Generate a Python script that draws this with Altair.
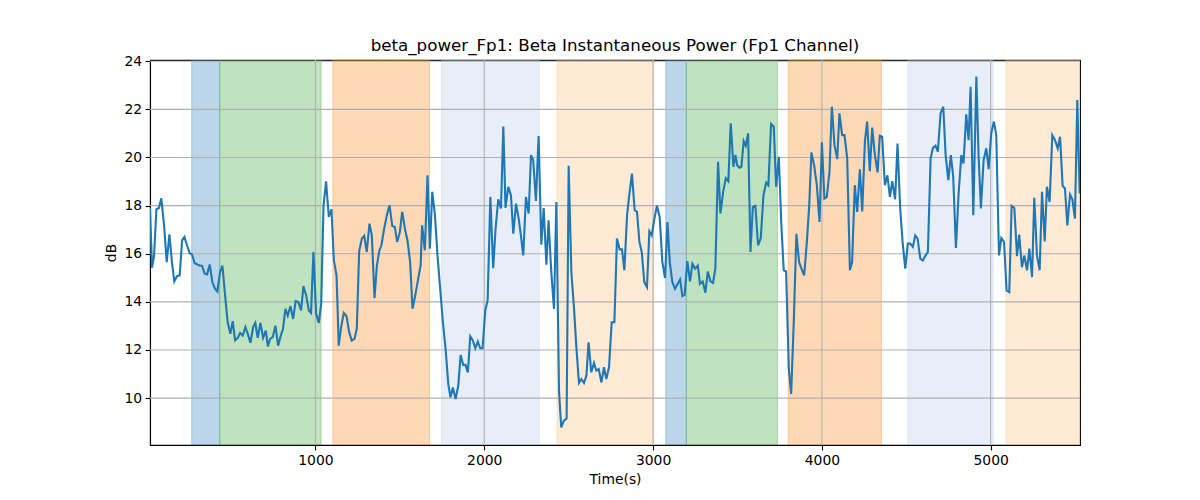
import altair as alt
import pandas as pd

# ---- line data (time in s, beta power in dB) ----
time_s = [20, 32, 44, 58, 73, 87, 103, 119, 135, 150, 164, 180, 196, 210, 224, 239, 255, 269, 285, 301,
          316, 328, 344, 358, 374, 390, 405, 419, 435, 449, 465, 480, 496, 510, 524, 540, 554, 569, 585, 599,
          615, 631, 644, 658, 674, 690, 706,
          718, 731, 747, 763, 779, 795, 808, 822, 836, 852, 868, 883, 899, 915, 929, 945, 961, 974, 988, 1004,
          1020, 1034, 1048, 1063, 1079, 1095, 1109, 1125, 1138, 1152, 1168, 1184, 1200, 1215, 1231, 1245, 1259,
          1275, 1289, 1304, 1320, 1334, 1350, 1364, 1379,
          1391, 1407, 1423, 1439, 1455, 1470, 1484, 1500, 1514, 1530, 1545, 1561, 1575, 1591, 1607, 1623, 1632,
          1648, 1664, 1678, 1692, 1708, 1723, 1739, 1755, 1771, 1787, 1800, 1814, 1830, 1846, 1860, 1875, 1889,
          1903, 1917, 1933, 1947, 1962, 1976, 1990, 2006, 2020, 2036, 2053, 2067, 2083,
          2099, 2113, 2126, 2142, 2158, 2172, 2188, 2204, 2217, 2231, 2247, 2263, 2277, 2290, 2306, 2322, 2338,
          2352, 2368, 2381, 2397, 2413, 2427, 2443, 2456, 2472, 2488, 2500, 2516, 2532, 2545, 2561, 2575, 2591,
          2605, 2618, 2634, 2650, 2664, 2678, 2694, 2709, 2723, 2739, 2755, 2771, 2786,
          2802, 2816, 2830, 2846, 2859, 2875, 2891, 2905, 2919, 2933, 2948, 2964, 2978, 2992, 3008, 3023, 3039,
          3055, 3071, 3085, 3099, 3114, 3130, 3146, 3160, 3174, 3187, 3203, 3219, 3233, 3249, 3265, 3278, 3294,
          3310, 3324, 3340, 3355, 3369, 3385, 3399, 3415, 3431, 3446, 3460, 3476,
          3488, 3498, 3512, 3523, 3537, 3549, 3563, 3577, 3591, 3606, 3622, 3638, 3654, 3670, 3683, 3699, 3715,
          3729, 3745, 3759, 3774, 3788, 3804, 3818, 3834, 3849, 3865, 3879, 3895, 3911, 3925, 3938, 3954, 3970,
          3986, 4000, 4015, 4029, 4045, 4059, 4075, 4091, 4104, 4120, 4134, 4150, 4166,
          4179, 4195, 4209, 4225, 4239, 4255, 4268, 4284, 4298, 4314, 4330, 4343, 4357, 4373, 4388, 4403, 4417,
          4434, 4448, 4464, 4478, 4494, 4509, 4523, 4539, 4553, 4567, 4583, 4598, 4612, 4628, 4644, 4658, 4673,
          4687, 4703, 4719, 4733, 4749, 4764, 4778, 4794, 4810, 4826, 4839, 4855, 4869,
          4881, 4897, 4915, 4928, 4942, 4958, 4974, 4988, 5003, 5019, 5033, 5049, 5063, 5079, 5094, 5110, 5124,
          5140, 5156, 5169, 5185, 5199, 5215, 5229, 5245, 5258, 5274, 5290, 5304, 5320, 5333, 5349, 5365, 5381,
          5397, 5411, 5426, 5440, 5454, 5470, 5484, 5499, 5513, 5527]

beta_db = [17.9, 15.42, 15.9, 17.85, 17.9, 18.3, 17.2, 15.65, 16.8, 15.65, 14.85, 15.07, 15.1, 16.55, 16.7, 16.35, 16.03, 15.96, 15.6, 15.55,
           15.5, 15.5, 15.17, 15.14, 15.55, 14.8, 14.55, 14.43, 15.24, 15.5, 14.26, 13.15, 12.67, 13.2, 12.4, 12.5, 12.7, 12.6, 12.95, 12.67,
           12.3, 12.95, 13.12, 12.5, 13.12, 12.5, 12.8,
           12.15, 12.46, 12.53, 13.01, 12.18, 12.6, 12.88, 13.71, 13.43, 13.82, 13.29, 14.03, 13.99, 13.64, 14.65, 14.26, 13.64, 13.54, 16.07, 13.5,
           13.12, 13.9, 18.01, 19.01, 17.53, 17.85, 15.72, 15.1, 12.18, 12.94, 13.54, 13.4, 12.74, 12.39, 12.46, 12.88, 16.1,
           16.63, 16.74, 16.07, 17.25, 16.76, 14.15, 15.51, 16.14,
           16.35, 17.04, 17.6, 18.01, 17.15, 17.11, 16.49, 16.9, 17.74, 17.04, 16.56, 15.65, 13.71, 14.26, 14.89, 15.51, 17.18,
           16.14, 19.26, 16.21, 18.57, 17.6, 15.93, 14.54, 13.15, 12.04, 10.58, 10.03, 10.44, 9.96, 10.51, 11.79, 11.38, 11.38,
           11.07, 12.57, 12.39, 12.07, 12.35, 12.07, 12.07, 13.64, 14.06, 18.36, 15.4, 17.04, 18.26,
           17.88, 21.28, 17.9, 18.78, 18.43, 16.83, 18.08, 17.46, 16.76, 15.93, 18.36, 17.67, 20.1, 19.89, 18.19, 20.89, 16.38,
           17.9, 15.54, 17.39, 15.24, 13.71, 18.15, 10.24, 8.78, 9.06, 9.15, 19.65, 15.24, 13.71, 12.18, 10.63, 10.79, 10.63,
           10.93, 12.32, 11.07, 11.46, 11.14, 11.21, 10.65, 11.28, 10.79, 11.28, 13.15, 13.15, 16.63,
           16.18, 16.18, 15.31, 17.6, 18.43, 19.33, 17.81, 17.74, 16.49, 16.07, 14.82, 14.61, 16.93, 16.76, 17.46, 17.99, 17.53,
           15.65, 14.99, 17.32, 15.65, 14.82, 14.54, 14.75, 14.93, 14.24, 14.29, 15.69, 14.85, 15.58, 15.38, 15.51, 14.75, 14.85,
           14.38, 15.26, 14.85, 14.78, 15.38, 19.82, 17.67, 18.57, 19.13, 19.01, 21.42, 19.61,
           20.1, 19.68, 19.57, 19.61, 20.68, 20.49, 21.0, 16.07, 17.94, 17.99, 16.35, 16.65, 18.43, 18.96, 18.85, 21.39, 21.28,
           18.78, 20.03, 17.32, 15.31, 15.26, 11.21, 10.17, 13.29, 16.83, 15.65, 15.38, 15.1, 16.49, 18.01, 20.21, 19.68, 18.85,
           17.32, 20.63, 18.29, 18.36, 19.4, 22.11, 20.51, 19.93, 21.83, 20.93, 20.93, 19.96, 15.31,
           15.65, 18.85, 17.74, 19.51, 17.76, 20.68, 21.49, 19.43, 21.24, 20.1, 19.38, 20.9, 20.86, 18.85, 19.26, 18.36, 19.01,
           18.26, 20.58, 17.88, 16.49, 15.38, 16.42, 16.42, 16.28, 16.76, 16.63, 15.79, 15.72, 15.9, 16.07, 19.96, 20.4, 20.49,
           20.24, 21.83, 22.11, 20.1, 19.06, 20.1, 19.19, 16.24, 18.5, 20.1, 19.75, 21.79, 20.72,
           22.94, 17.6, 23.36, 20.1, 17.88, 19.89, 20.38, 19.51, 21.0, 21.49, 20.93, 15.93, 16.65, 16.49, 14.47, 14.4, 17.99,
           17.9, 15.9, 16.79, 15.44, 15.93, 15.31, 16.21, 15.03, 18.32, 15.93, 15.31, 18.57, 16.51, 18.78, 18.15, 20.93, 20.72,
           20.38, 20.86, 18.82, 18.71, 17.18, 18.46, 18.26, 17.46, 22.39, 18.5]

# ---- shaded spans ----
span_start = [267, 433, 1103, 1747, 2431, 3075, 3197, 3800, 4509, 5090]
span_end = [433, 1034, 1676, 2326, 3004, 3197, 3737, 4353, 5015, 5600]
span_color = ["#1f77b4", "#2ca02c", "#ff7f0e", "#aec7e8", "#ffbb78",
              "#1f77b4", "#2ca02c", "#ff7f0e", "#aec7e8", "#ffbb78"]

x_ticks = [1000, 2000, 3000, 4000, 5000]
y_ticks = [10, 12, 14, 16, 18, 20, 22, 24]

X_DOMAIN = [20, 5529]
Y_DOMAIN = [8.05, 24.05]

line_df = pd.DataFrame({"t": time_s, "db": beta_db})
span_df = pd.DataFrame({"s": span_start, "e": span_end, "c": span_color})
xg_df = pd.DataFrame({"v": x_ticks})
yg_df = pd.DataFrame({"v": y_ticks})

FONT = "DejaVu Sans"
xscale = alt.Scale(domain=X_DOMAIN, nice=False, zero=False)
yscale = alt.Scale(domain=Y_DOMAIN, nice=False, zero=False)
xaxis = alt.Axis(values=x_ticks, title="Time(s)", grid=False, format="d")
yaxis = alt.Axis(values=y_ticks, title="dB", grid=False, format="d")

spans = alt.Chart(span_df).mark_rect(
    fillOpacity=0.3, strokeOpacity=0.3, strokeWidth=1, clip=True
).encode(
    x=alt.X("s:Q", scale=xscale, axis=xaxis),
    x2="e:Q",
    y=alt.value(0),
    y2=alt.value(385),
    fill=alt.Fill("c:N", scale=None),
    stroke=alt.Stroke("c:N", scale=None),
)

xgrid = alt.Chart(xg_df).mark_rule(color="#b0b0b0", strokeWidth=1.1).encode(
    x=alt.X("v:Q", scale=xscale, axis=xaxis)
)
ygrid = alt.Chart(yg_df).mark_rule(color="#b0b0b0", strokeWidth=1.1).encode(
    y=alt.Y("v:Q", scale=yscale, axis=yaxis)
)

line = alt.Chart(line_df).mark_line(color="#1f77b4", strokeWidth=2.1, clip=True).encode(
    x=alt.X("t:Q", scale=xscale, axis=xaxis),
    y=alt.Y("db:Q", scale=yscale, axis=yaxis),
)

chart = alt.layer(spans, xgrid, ygrid, line).properties(
    width=930,
    height=385,
    autosize=alt.AutoSizeParams(type="none"),
    padding={"left": 142, "top": 52, "right": 110, "bottom": 47},
    title=alt.TitleParams(
        "beta_power_Fp1: Beta Instantaneous Power (Fp1 Channel)",
        font=FONT, fontSize=16.7, fontWeight="normal", color="black",
        anchor="middle", offset=0,
    ),
).configure_view(
    stroke="black", strokeWidth=1.1
).configure_axis(
    domainColor="black", domainWidth=1.1, tickColor="black", tickSize=4.9, tickWidth=1.1,
    labelColor="black", labelFont=FONT, labelFontSize=13.9, labelPadding=3.5,
    titleColor="black", titleFont=FONT, titleFontSize=13.9, titleFontWeight="normal",
    titlePadding=5.6,
)

chart.save("out.html", embed_options={"renderer": "svg", "actions": False})
